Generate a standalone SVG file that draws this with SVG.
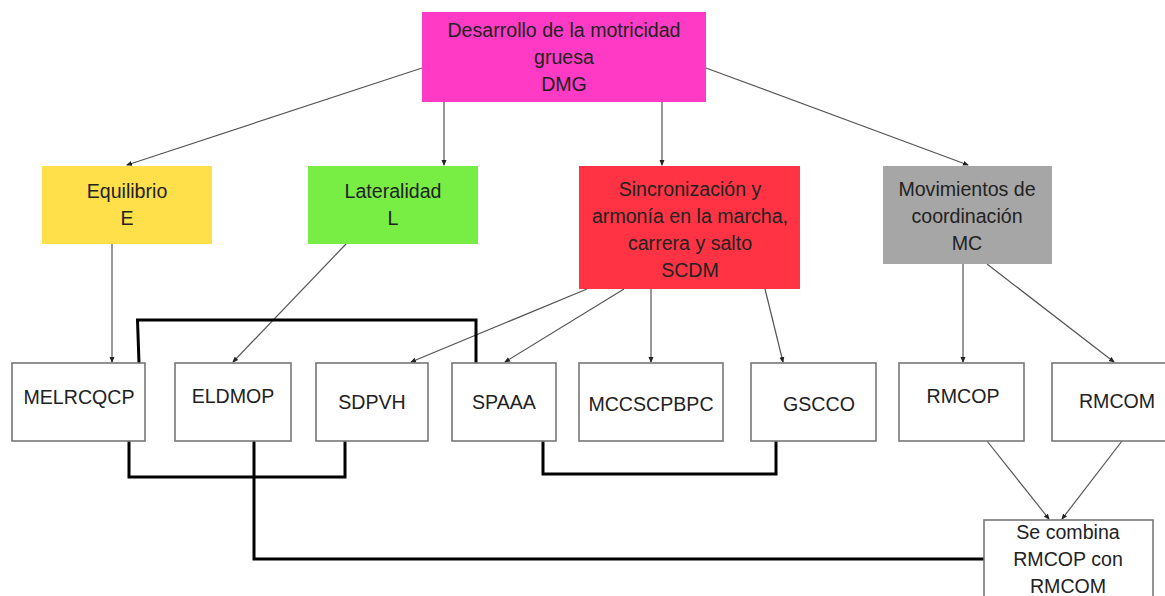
<svg xmlns="http://www.w3.org/2000/svg" width="1165" height="596" viewBox="0 0 1165 596">
<defs>
<marker id="ah" viewBox="0 0 6 6" refX="5" refY="3" markerWidth="6" markerHeight="6" markerUnits="userSpaceOnUse" orient="auto">
<path d="M0,0.5 L6,3 L0,5.5 z" fill="#222"/>
</marker>
<style>
text{font-family:"Liberation Sans",Arial,sans-serif;font-size:19.6px;fill:#222;text-anchor:middle}
.leaf{fill:#fff;stroke:#777;stroke-width:1.6}
.top{stroke:none}
.c{fill:none;stroke:#555;stroke-width:1.2;marker-end:url(#ah)}
.t{fill:none;stroke:#000;stroke-width:3;stroke-linejoin:miter}
</style>
</defs>
<rect width="1165" height="596" fill="#fff"/>
<g id="connectors">
<path class="c" d="M422,68 L127,165"/>
<path class="c" d="M444,102 L444,165"/>
<path class="c" d="M662,102 L662,165"/>
<path class="c" d="M706,68 L968,165"/>
<path class="c" d="M112,244 L112,362"/>
<path class="c" d="M346,244 L233,362"/>
<path class="c" d="M587,289 L411,362"/>
<path class="c" d="M624,289 L505,362"/>
<path class="c" d="M651,289 L651,362"/>
<path class="c" d="M765,289 L783,362"/>
<path class="c" d="M963,264 L963,362"/>
<path class="c" d="M987,264 L1114,362"/>
<path class="c" d="M987,441 L1049,519"/>
<path class="c" d="M1122,441 L1062,519"/>
<path class="t" d="M139,363 L137.5,320 L476,320 L476,363"/>
<path class="t" d="M129,441 L129,477 L345,477 L345,441"/>
<path class="t" d="M254,441 L254,559 L984,559"/>
<path class="t" d="M543,441 L543,474 L776,474 L776,441"/>
</g>
<g id="DMG">
<rect class="top" x="422" y="12" width="284" height="90" fill="#FF3BC6"/>
<text x="564" y="37">Desarrollo de la motricidad</text>
<text x="564" y="64">gruesa</text>
<text x="564" y="91">DMG</text>
</g>
<g id="E">
<rect class="top" x="42" y="166" width="170" height="78" fill="#FFDF4A"/>
<text x="127" y="198">Equilibrio</text>
<text x="127" y="225">E</text>
</g>
<g id="L">
<rect class="top" x="308" y="166" width="170" height="78" fill="#78EE44"/>
<text x="393" y="198">Lateralidad</text>
<text x="393" y="225">L</text>
</g>
<g id="SCDM">
<rect class="top" x="579" y="166" width="221" height="123" fill="#FF3344"/>
<text x="690" y="196">Sincronización y</text>
<text x="690" y="223">armonía en la marcha,</text>
<text x="690" y="250">carrera y salto</text>
<text x="690" y="277">SCDM</text>
</g>
<g id="MC">
<rect class="top" x="883" y="166" width="169" height="98" fill="#A6A6A6"/>
<text x="967" y="196">Movimientos de</text>
<text x="967" y="223">coordinación</text>
<text x="967" y="250">MC</text>
</g>
<g id="MELRCQCP">
<rect class="leaf" x="12" y="363" width="133" height="78"/>
<text x="79" y="404">MELRCQCP</text>
</g>
<g id="ELDMOP">
<rect class="leaf" x="175" y="363" width="116" height="78"/>
<text x="233" y="403">ELDMOP</text>
</g>
<g id="SDPVH">
<rect class="leaf" x="316" y="363" width="112" height="78"/>
<text x="372" y="409">SDPVH</text>
</g>
<g id="SPAAA">
<rect class="leaf" x="452" y="363" width="104" height="78"/>
<text x="504" y="409">SPAAA</text>
</g>
<g id="MCCSCPBPC">
<rect class="leaf" x="579" y="363" width="144" height="78"/>
<text x="651" y="411">MCCSCPBPC</text>
</g>
<g id="GSCCO">
<rect class="leaf" x="751" y="363" width="125" height="78"/>
<text x="819" y="411">GSCCO</text>
</g>
<g id="RMCOP">
<rect class="leaf" x="899" y="363" width="125" height="78"/>
<text x="963" y="403">RMCOP</text>
</g>
<g id="RMCOM">
<rect class="leaf" x="1052" y="363" width="120" height="78"/>
<text x="1117" y="408">RMCOM</text>
</g>
<g id="combina">
<rect class="leaf" x="984" y="520" width="169" height="90"/>
<text x="1068" y="539">Se combina</text>
<text x="1068" y="566">RMCOP con</text>
<text x="1068" y="593">RMCOM</text>
</g>
</svg>
